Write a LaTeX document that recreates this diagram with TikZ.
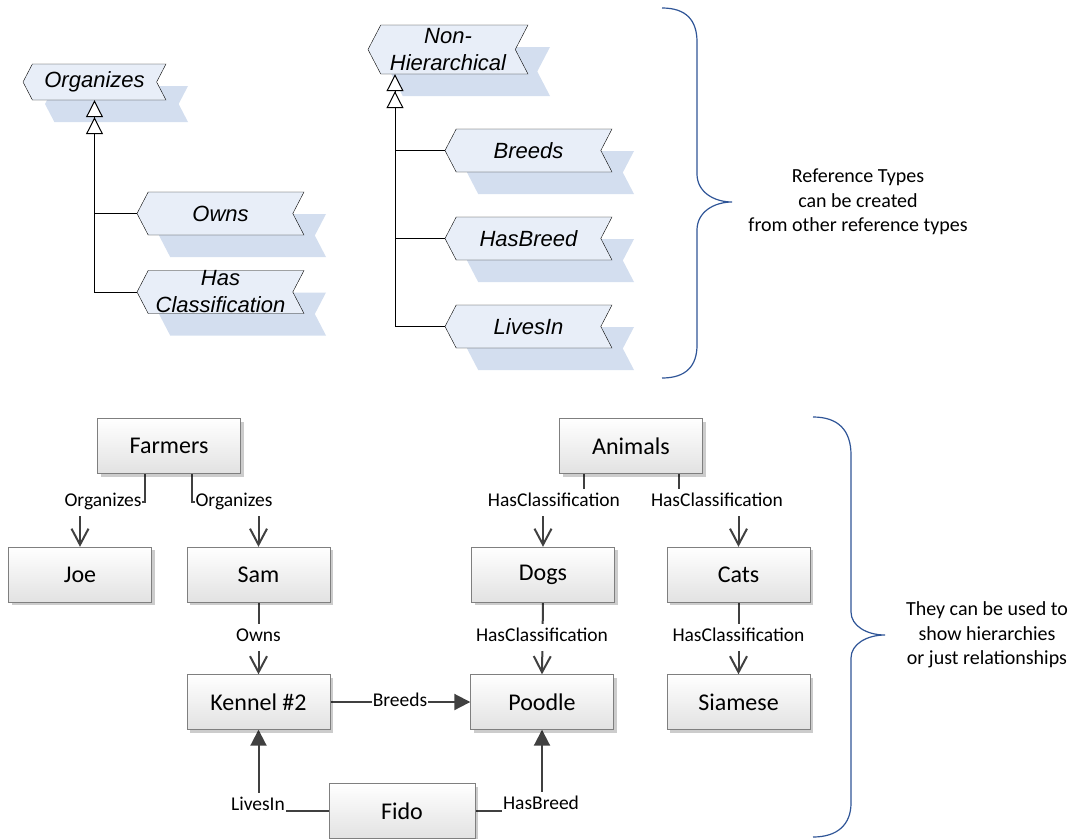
\documentclass[tikz,border=0pt]{standalone}
\usepackage{fontspec}
\setmainfont{Carlito}
\newfontfamily\reffont{Liberation Sans}
\usepackage{tikz}
\usetikzlibrary{arrows.meta,shapes.symbols,shadows,backgrounds}

\definecolor{refFill}{HTML}{E8EEF8}
\definecolor{refShadow}{HTML}{D3DEEF}
\definecolor{objBorder}{HTML}{7F7F7F}
\definecolor{objBottom}{HTML}{E2E2E2}
\definecolor{relGray}{HTML}{404040}
\definecolor{braceBlue}{HTML}{2F5597}

\begin{document}
\begin{tikzpicture}[x=1pt, y=-1pt,
  reftype/.style={signal, signal to=west, signal from=east, signal pointer angle=125,
    draw=black, fill=refFill, minimum width=167pt, minimum height=43pt, inner sep=0pt,
    font=\reffont\itshape\fontsize{22}{27}\selectfont, align=center,
    drop shadow={shadow xshift=22pt, shadow yshift=-22pt, fill=refShadow, opacity=1}},
  subtype/.style={draw=black, line width=1pt,
    arrows={Triangle[length=17pt,width=17pt,fill=white] Triangle[length=17pt,width=17pt,fill=white]-}},
  branch/.style={draw=black, line width=1pt},
  object/.style={rectangle, draw=objBorder, top color=white, bottom color=objBottom,
    minimum width=143pt, minimum height=55pt, font=\fontsize{24}{29}\selectfont,
    drop shadow={shadow xshift=3pt, shadow yshift=-3pt, fill=black, opacity=0.2}},
  rel/.style={draw=relGray, line width=2pt},
  hier/.style={rel, arrows={-Straight Barb[length=16pt,width=17pt]}},
  nonhier/.style={rel, arrows={-Triangle[length=16pt,width=16pt]}},
  relname/.style={fill=white, inner xsep=1pt, inner ysep=5pt, text height=13pt, text depth=4pt,
    font=\fontsize{19.5}{23}\selectfont},
  brace/.style={draw=braceBlue, line width=1.2pt},
  bracetext/.style={align=center, font=\fontsize{20}{24.5}\selectfont}
]
\useasboundingbox (0,0) rectangle (1075,838);

% reference types
\node[reftype, minimum width=143pt, minimum height=36pt] (Organizes) at (94.5,82) {Organizes};
\node[reftype] (Owns) at (220.5,213.5) {Owns};
\node[reftype, inner ysep=-3pt] (HasClass) at (220.5,292) {Has\\Classification};
\node[reftype, minimum width=160pt, minimum height=49pt] (NonHier) at (448,49.5) {Non-\\Hierarchical};
\node[reftype] (Breeds) at (528.5,150.5) {Breeds};
\node[reftype] (HasBreed) at (528.5,238.5) {HasBreed};
\node[reftype] (LivesIn) at (528.5,326.5) {LivesIn};

% subtype lines
\draw[subtype] (Organizes.south) |- (HasClass.west);
\draw[branch] (Organizes.south |- Owns.west) -- (Owns.west);
\coordinate (nh) at ([xshift=-53pt]NonHier.south);
\draw[subtype] (nh) |- (LivesIn.west);
\draw[branch] (nh |- Breeds.west) -- (Breeds.west);
\draw[branch] (nh |- HasBreed.west) -- (HasBreed.west);

% braces
\draw[brace] (662,8) .. controls (686,8) and (697,20) .. (697,42) -- (697,174)
  .. controls (697,192) and (714,202) .. (732,202) .. controls (714,202) and (697,212) .. (697,230)
  -- (697,345) .. controls (697,366) and (686,378) .. (662,378);
\node[bracetext] (refNote) at (858,202) {Reference Types\\can be created\\from other reference types};

\draw[brace] (813,417) .. controls (838,417) and (851,430) .. (851,455) -- (851,612)
  .. controls (851,626) and (867,635) .. (885,635) .. controls (867,635) and (851,644) .. (851,658)
  -- (851,803) .. controls (851,824) and (838,837) .. (813,837);
\node[bracetext] (useNote) at (987,635) {They can be used to\\show hierarchies\\or just relationships};

% objects
\node[object] (Farmers) at (169,446) {Farmers};
\node[object] (Joe) at (80,574.5) {Joe};
\node[object] (Sam) at (258.5,574.5) {Sam};
\node[object] (Kennel) at (258.5,702) {Kennel \#2};
\node[object, minimum width=146pt] (Fido) at (402,811) {Fido};
\node[object] (Animals) at (631,446) {Animals};
\node[object] (Dogs) at (543,574.5) {Dogs};
\node[object] (Cats) at (738.5,574.5) {Cats};
\node[object] (Poodle) at (542,702) {Poodle};
\node[object] (Siamese) at (738.5,702) {Siamese};

% reference names
\node[relname] (o1) at (103,502) {Organizes};
\node[relname] (o2) at (234,502) {Organizes};
\node[relname] (c1) at (554,502) {HasClassification};
\node[relname] (c2) at (717,502) {HasClassification};
\node[relname] (ow) at (258.5,637) {Owns};
\node[relname] (c3) at (542,637) {HasClassification};
\node[relname] (c4) at (738.5,637) {HasClassification};
\node[relname] (br) at (400,702) {Breeds};
\node[relname] (li) at (258,806) {LivesIn};
\node[relname] (hb) at (541,805) {HasBreed};

% references
\begin{scope}[on background layer]
\draw[hier] ([xshift=-24pt]Farmers.south) |- (o1.center) -| (Joe.north);
\draw[hier] ([xshift=23pt]Farmers.south) |- (o2.center) -| (Sam.north);
\draw[hier] ([xshift=-47pt]Animals.south) |- (c1.center) -| (Dogs.north);
\draw[hier] ([xshift=48pt]Animals.south) |- (c2.center) -| (Cats.north);
\draw[hier] (Sam.south) -- (Kennel.north);
\draw[hier] (Dogs.south) -- (Poodle.north);
\draw[hier] (Cats.south) -- (Siamese.north);
\draw[nonhier] (Kennel.east) -- (Poodle.west);
\draw[nonhier] (Fido.west) -| (Kennel.south);
\draw[nonhier] (Fido.east) -| (Poodle.south);
\end{scope}

\end{tikzpicture}
\end{document}
